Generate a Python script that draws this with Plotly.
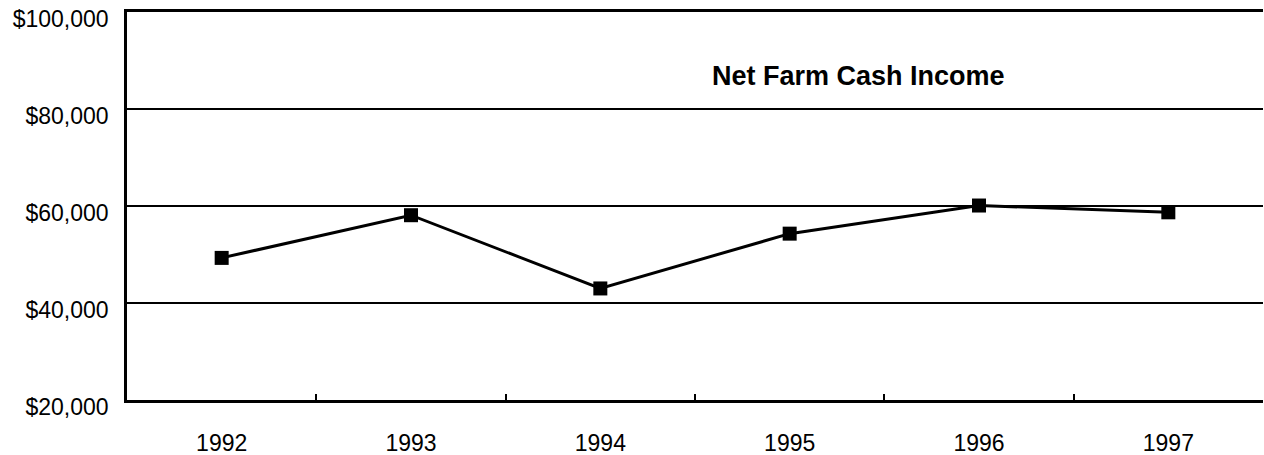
import plotly.graph_objects as go

years = ["1992", "1993", "1994", "1995", "1996", "1997"]
income = [49300, 58100, 43000, 54300, 60100, 58700]
y_ticks = [20000, 40000, 60000, 80000, 100000]
y_labels = ["$20,000", "$40,000", "$60,000", "$80,000", "$100,000"]
title_text = "Net Farm Cash Income"

fig = go.Figure()
fig.add_trace(go.Scatter(
    x=years, y=income, mode="lines+markers",
    line=dict(color="black", width=3),
    marker=dict(symbol="square", size=14, color="black"),
    showlegend=False, hoverinfo="skip",
))

fig.add_annotation(
    text="<b>" + title_text + "</b>", xref="paper", yref="paper",
    x=0.6435, y=0.834, showarrow=False,
    font=dict(family="Liberation Sans, Arial", size=27, color="black"),
    xanchor="center", yanchor="middle",
)

fig.update_layout(
    width=1264, height=455,
    margin=dict(l=127, r=1, t=12, b=55),
    paper_bgcolor="white", plot_bgcolor="white",
    font=dict(family="Liberation Sans, Arial", size=23, color="black"),
    xaxis=dict(
        type="category", tickson="boundaries", ticks="inside", ticklen=6,
        tickwidth=2, tickcolor="black", showgrid=False, showline=True,
        linecolor="black", linewidth=2.5, ticklabelstandoff=21,
        range=[-0.5, 5.5], zeroline=False, automargin=False, mirror=True,
    ),
    yaxis=dict(
        range=[20000, 100000], tickvals=y_ticks, ticktext=y_labels,
        showgrid=True, gridcolor="black", gridwidth=2,
        showline=True, linecolor="black", linewidth=2.5,
        ticks="", ticklabelstandoff=11, ticklabelshift=7,
        zeroline=False, automargin="left",
    ),
)

fig.write_html(
    "out.html",
    config={"displayModeBar": False},
    post_script="document.body.style.margin='0';document.body.style.overflow='hidden';",
)
